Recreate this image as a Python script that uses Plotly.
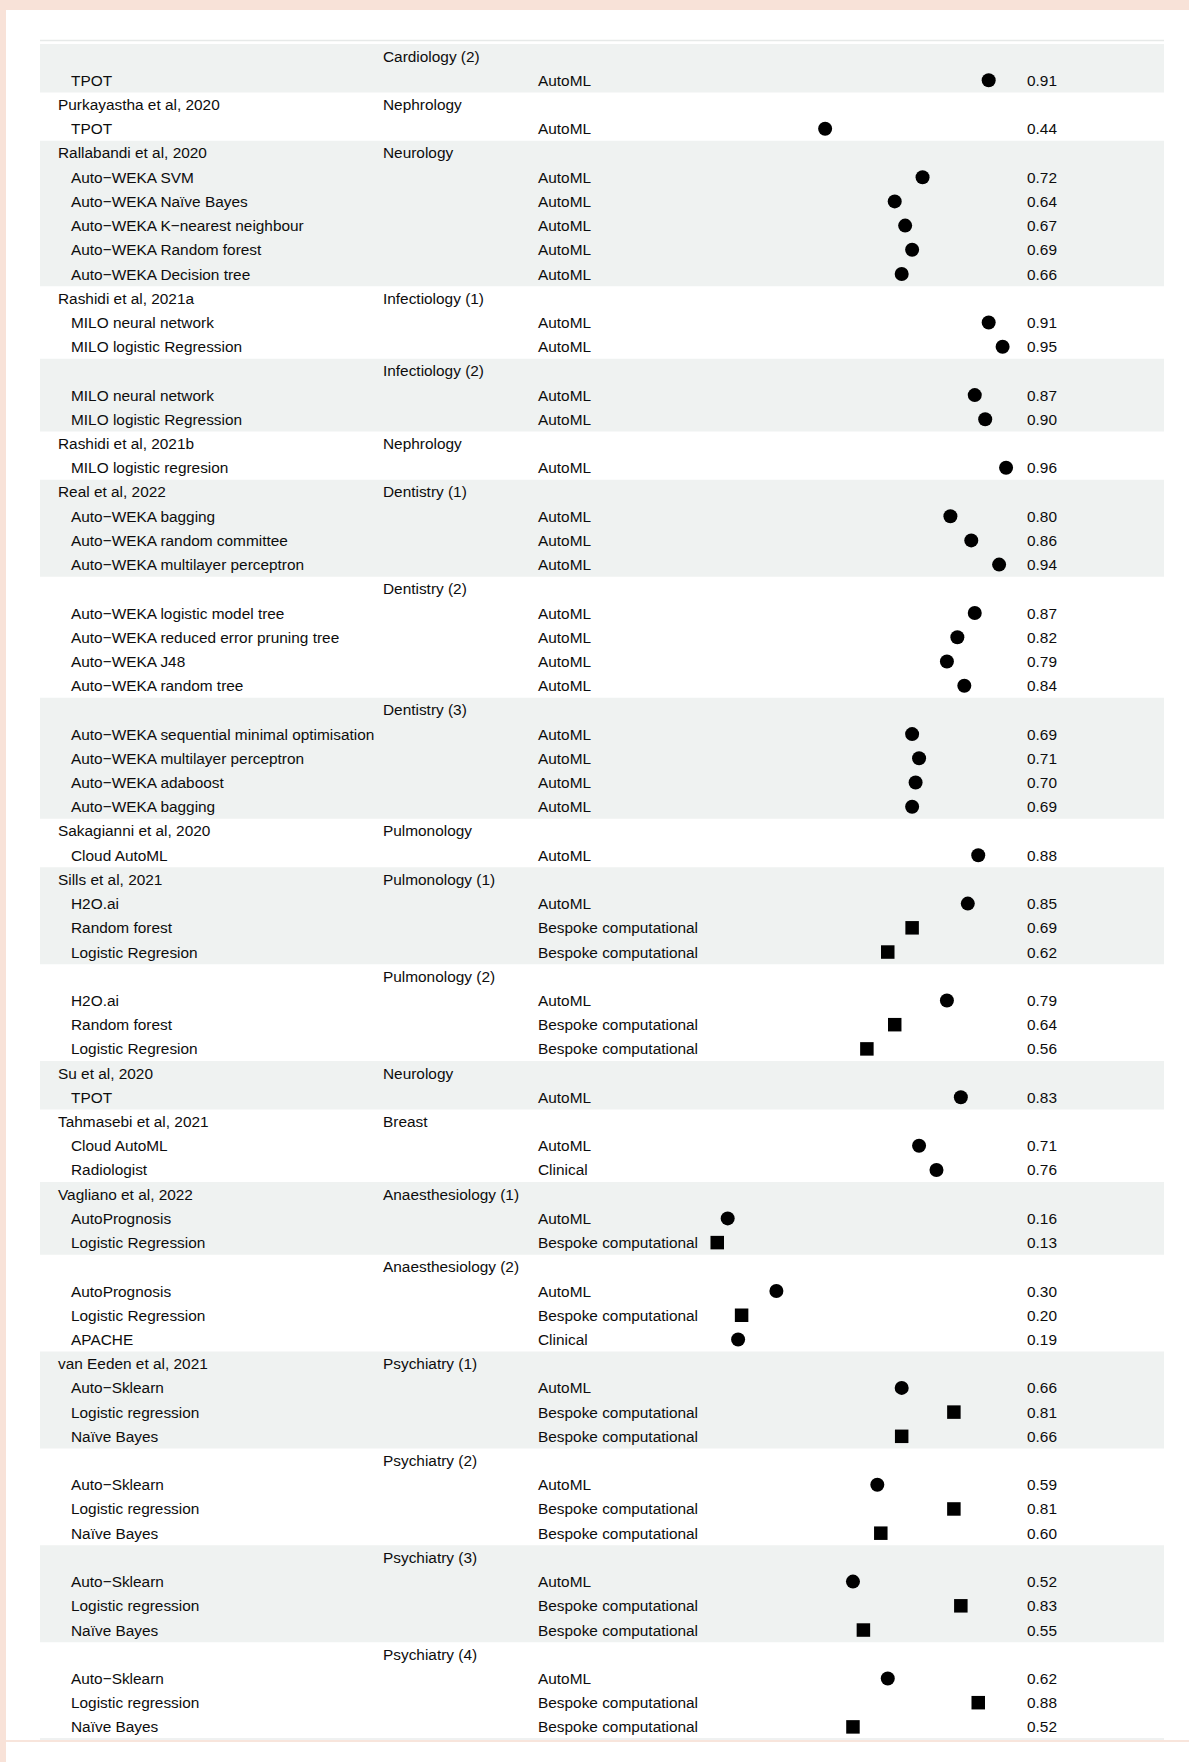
import plotly.graph_objects as go

# ---------------- data ----------------
study = ["", "Purkayastha et al, 2020", "Rallabandi et al, 2020", "Rashidi et al, 2021a", "",
         "Rashidi et al, 2021b", "Real et al, 2022", "", "", "Sakagianni et al, 2020",
         "Sills et al, 2021", "", "Su et al, 2020", "Tahmasebi et al, 2021", "Vagliano et al, 2022",
         "", "van Eeden et al, 2021", "", "", ""]
domain = ["Cardiology (2)", "Nephrology", "Neurology", "Infectiology (1)", "Infectiology (2)",
          "Nephrology", "Dentistry (1)", "Dentistry (2)", "Dentistry (3)", "Pulmonology",
          "Pulmonology (1)", "Pulmonology (2)", "Neurology", "Breast", "Anaesthesiology (1)",
          "Anaesthesiology (2)", "Psychiatry (1)", "Psychiatry (2)", "Psychiatry (3)", "Psychiatry (4)"]
group_size = [1, 1, 5, 2, 2, 1, 3, 4, 4, 1, 3, 3, 1, 2, 2, 3, 3, 3, 3, 3]

models = [
    "TPOT",
    "TPOT",
    "Auto\u2212WEKA SVM", "Auto\u2212WEKA Naïve Bayes", "Auto\u2212WEKA K\u2212nearest neighbour",
    "Auto\u2212WEKA Random forest", "Auto\u2212WEKA Decision tree",
    "MILO neural network", "MILO logistic Regression",
    "MILO neural network", "MILO logistic Regression",
    "MILO logistic regresion",
    "Auto\u2212WEKA bagging", "Auto\u2212WEKA random committee", "Auto\u2212WEKA multilayer perceptron",
    "Auto\u2212WEKA logistic model tree", "Auto\u2212WEKA reduced error pruning tree",
    "Auto\u2212WEKA J48", "Auto\u2212WEKA random tree",
    "Auto\u2212WEKA sequential minimal optimisation", "Auto\u2212WEKA multilayer perceptron",
    "Auto\u2212WEKA adaboost", "Auto\u2212WEKA bagging",
    "Cloud AutoML",
    "H2O.ai", "Random forest", "Logistic Regresion",
    "H2O.ai", "Random forest", "Logistic Regresion",
    "TPOT",
    "Cloud AutoML", "Radiologist",
    "AutoPrognosis", "Logistic Regression",
    "AutoPrognosis", "Logistic Regression", "APACHE",
    "Auto\u2212Sklearn", "Logistic regression", "Naïve Bayes",
    "Auto\u2212Sklearn", "Logistic regression", "Naïve Bayes",
    "Auto\u2212Sklearn", "Logistic regression", "Naïve Bayes",
    "Auto\u2212Sklearn", "Logistic regression", "Naïve Bayes",
]
A, B, C = "AutoML", "Bespoke computational", "Clinical"
types = [
    A,
    A,
    A, A, A, A, A,
    A, A,
    A, A,
    A,
    A, A, A,
    A, A, A, A,
    A, A, A, A,
    A,
    A, B, B,
    A, B, B,
    A,
    A, C,
    A, B,
    A, B, C,
    A, B, B,
    A, B, B,
    A, B, B,
    A, B, B,
]
values = [
    0.91,
    0.44,
    0.72, 0.64, 0.67, 0.69, 0.66,
    0.91, 0.95,
    0.87, 0.90,
    0.96,
    0.80, 0.86, 0.94,
    0.87, 0.82, 0.79, 0.84,
    0.69, 0.71, 0.70, 0.69,
    0.88,
    0.85, 0.69, 0.62,
    0.79, 0.64, 0.56,
    0.83,
    0.71, 0.76,
    0.16, 0.13,
    0.30, 0.20, 0.19,
    0.66, 0.81, 0.66,
    0.59, 0.81, 0.60,
    0.52, 0.83, 0.55,
    0.62, 0.88, 0.52,
]

# ---------------- layout constants ----------------
W, H = 1189, 1762
TOP, BOTTOM = 44, 1739
FONT = "Liberation Sans, Arial, Helvetica, sans-serif"
FS = 15.4
TXT = "#0d0d0d"
BAND = "#eff2f1"
PEACH = "#f8e2d8"


def px_x(p):
    return p / W


def px_y(p):
    return 1 - p / H


n_rows = len(group_size) + len(models)

annotations = []
shapes = []
pt_rows = []
r = 0
m = 0
for g in range(len(group_size)):
    r += 1
    start = r
    annotations.append(dict(text=study[g], x=px_x(55.5), y=r, xref="paper", yref="y",
                            xanchor="left", yanchor="middle", showarrow=False))
    annotations.append(dict(text=domain[g], x=px_x(381), y=r, xref="paper", yref="y",
                            xanchor="left", yanchor="middle", showarrow=False))
    for k in range(group_size[g]):
        r += 1
        annotations.append(dict(text=models[m], x=px_x(68.5), y=r, xref="paper", yref="y",
                                xanchor="left", yanchor="middle", showarrow=False))
        annotations.append(dict(text=types[m], x=px_x(536), y=r, xref="paper", yref="y",
                                xanchor="left", yanchor="middle", showarrow=False))
        annotations.append(dict(text=f"{values[m]:.2f}", x=px_x(1024.5), y=r, xref="paper", yref="y",
                                xanchor="left", yanchor="middle", showarrow=False))
        pt_rows.append(r)
        m += 1
    if g % 2 == 0:
        shapes.append(dict(type="rect", xref="paper", yref="y", x0=px_x(40), x1=px_x(1164),
                           y0=start - 0.5, y1=r + 0.5, fillcolor=BAND, line=dict(width=0),
                           layer="below"))

# table border lines
shapes.append(dict(type="line", xref="paper", yref="paper", x0=px_x(40), x1=px_x(1164),
                   y0=px_y(40.5), y1=px_y(40.5), line=dict(color="#e6e9e8", width=1.5), layer="below"))
shapes.append(dict(type="line", xref="paper", yref="paper", x0=px_x(40), x1=px_x(1164),
                   y0=px_y(1739), y1=px_y(1739), line=dict(color="#eaedec", width=1.5), layer="below"))
# page decoration (peach)
shapes.append(dict(type="rect", xref="paper", yref="paper", x0=0, x1=1, y0=px_y(10), y1=1,
                   fillcolor=PEACH, line=dict(width=0), layer="below"))
shapes.append(dict(type="rect", xref="paper", yref="paper", x0=0, x1=px_x(6), y0=0, y1=1,
                   fillcolor=PEACH, line=dict(width=0), layer="below"))
shapes.append(dict(type="line", xref="paper", yref="paper", x0=px_x(6), x1=1,
                   y0=px_y(1741), y1=px_y(1741), line=dict(color="#f6dcd0", width=1.5), layer="below"))

symbols = ["square" if t == B else "circle" for t in types]
sizes = [13.5 if t == B else 14 for t in types]

fig = go.Figure()
fig.add_trace(go.Scatter(
    x=values, y=pt_rows, mode="markers",
    marker=dict(symbol=symbols, size=sizes, color="#000000", opacity=1, line=dict(width=0)),
    hoverinfo="skip", showlegend=False,
))

fig.update_layout(
    width=W, height=H,
    margin=dict(l=0, r=0, t=0, b=0),
    paper_bgcolor="white", plot_bgcolor="rgba(0,0,0,0)",
    font=dict(family=FONT, size=FS, color=TXT),
    showlegend=False,
    annotations=annotations,
    shapes=shapes,
    xaxis=dict(domain=[672 / W, 1020 / W], range=[0, 1], visible=False, fixedrange=True),
    yaxis=dict(domain=[1 - BOTTOM / H, 1 - TOP / H], range=[n_rows + 0.5, 0.5],
               visible=False, fixedrange=True),
)

fig.write_html(
    "out.html",
    config={"displayModeBar": False, "staticPlot": True},
    post_script="document.body.style.margin='0';document.body.style.overflow='hidden';",
)
